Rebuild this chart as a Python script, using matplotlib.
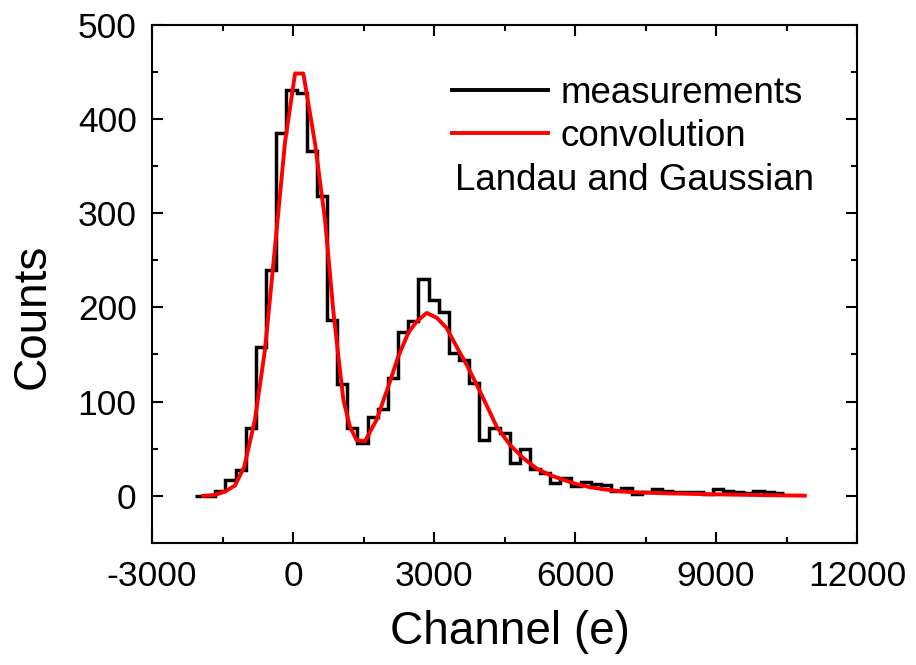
import numpy as np
import matplotlib
matplotlib.use("Agg")
import matplotlib.pyplot as plt
from matplotlib.ticker import MultipleLocator

plt.rcParams['font.family'] = ['Liberation Sans', 'DejaVu Sans']
plt.rcParams['axes.unicode_minus'] = False

# Histogram of measurements: first bin edge, bin width, counts per bin
bin_start = -2085
bin_width = 216
counts = [0, 0, 5, 17, 27, 72, 158, 240, 385, 430, 427, 366, 318, 187,
          119, 72, 56, 84, 92, 125, 174, 185, 230, 208, 195, 152, 144, 120,
          59, 72, 67, 35, 50, 28, 24, 14, 19, 10, 15, 13, 12, 5, 8,
          2, 4, 7, 5, 4, 4, 4, 2, 7, 5, 4, 3, 5, 4, 3]

# Landau (x) Gaussian convolution fit curve
fit_x = [-1908, -1660, -1447, -1234, -1036, -809, -596, -383, -170, 43, 220,
         468, 681, 858, 1000, 1071, 1213, 1355, 1532, 1781, 2028, 2241, 2454,
         2632, 2845, 3057, 3270, 3483, 3696, 3908, 4120, 4333, 4617, 4900,
         5185, 5468, 5752, 6036, 6319, 6603, 6887, 7170, 8000, 9000, 10000,
         10890]
fit_y = [0, 1, 4.6, 11, 31, 81, 155, 264, 375, 448, 448,
         374, 293, 196, 133, 102, 73, 59, 58, 81, 116, 148, 173,
         185, 194, 189, 178, 158, 139, 118, 96, 73.5, 54, 40,
         29, 22, 17, 12.4, 9.2, 7, 5.3, 4, 2.6, 1.6, 0.8,
         0.2]

x_ticks = [-3000, 0, 3000, 6000, 9000, 12000]
y_ticks = [0, 100, 200, 300, 400, 500]

fig = plt.figure(figsize=(9.16, 6.65), dpi=100)
ax = fig.add_axes([152/916, 1-543/665, 705/916, (543-24.5)/665])

edges = bin_start + bin_width * np.arange(len(counts) + 1)
ax.stairs(counts, edges, baseline=None, color='black', linewidth=2.5,
          label='measurements')
ax.plot(fit_x, fit_y, color='#ff0000', linewidth=2.8, label='convolution')

ax.set_xlim(-3000, 12000)
ax.set_ylim(-50, 500)
ax.set_xticks(x_ticks)
ax.set_yticks(y_ticks)
ax.xaxis.set_minor_locator(MultipleLocator(1500))
ax.yaxis.set_minor_locator(MultipleLocator(50))
ax.tick_params(which='both', direction='in', top=True, right=True,
               width=1.5, labelsize=25.5)
ax.tick_params(which='major', length=8)
ax.tick_params(axis='x', which='major', pad=12)
ax.tick_params(axis='y', which='major', pad=11)
ax.tick_params(which='minor', length=4)
for s in ax.spines.values():
    s.set_linewidth(1.5)

ax.set_xlabel('Channel (e)', fontsize=33)
ax.set_ylabel('Counts', fontsize=33)
ax.xaxis.set_label_coords((510-152)/705, -(632-543)/518.5)
ax.xaxis.label.set_va('center')
ax.yaxis.set_label_coords(-(152-33)/705, (543-316)/518.5)
ax.yaxis.label.set_va('center')

leg = ax.legend(loc='upper left', bbox_to_anchor=(452/916, 1-76/665),
                bbox_transform=fig.transFigure, frameon=False, fontsize=26.5,
                handlelength=2.6, handletextpad=0.35, labelspacing=0.22,
                borderaxespad=0, borderpad=0)
for h in leg.get_lines():
    h.set_linewidth(2.8)
fig.text(455/916, 1-181/665, 'Landau and Gaussian', fontsize=26.5,
         va='center', ha='left')

fig.savefig('out.png', dpi=100)
